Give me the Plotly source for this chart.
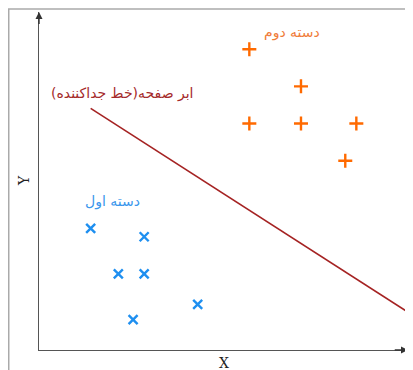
import plotly.graph_objects as go

# Data (axis units 0..10)
group2_x = [5.7, 7.1, 5.7, 7.1, 8.6, 8.3]
group2_y = [8.9, 7.8, 6.7, 6.7, 6.7, 5.6]
group1_x = [1.4, 2.85, 2.15, 2.85, 4.3, 2.55]
group1_y = [3.6, 3.35, 2.25, 2.25, 1.35, 0.9]
line_x = [1.4, 10.0]
line_y = [7.15, 1.12]
label_group1 = "دسته اول"
label_group2 = "دسته دوم"
label_line = "ابر صفحه(خط جداکننده)"
x_title = "X"
y_title = "Y"

fig = go.Figure()
fig.add_trace(go.Scatter(x=line_x, y=line_y, mode="lines",
                         line=dict(color="#a52323", width=1.6), showlegend=False, hoverinfo="skip"))
fig.add_trace(go.Scatter(x=group2_x, y=group2_y, mode="markers",
                         marker=dict(symbol="cross-thin", size=10, line=dict(color="#ff6a00", width=2.4)),
                         showlegend=False))
fig.add_trace(go.Scatter(x=group1_x, y=group1_y, mode="markers",
                         marker=dict(symbol="x-thin", size=9, line=dict(color="#1e8ff0", width=2.4)),
                         showlegend=False))

pf = "DejaVu Sans"
fig.add_annotation(x=6.85, y=9.4, text=label_group2, showarrow=False,
                   font=dict(family=pf, size=14, color="#f07c3a"))
fig.add_annotation(x=2.25, y=7.6, text=label_line, showarrow=False,
                   font=dict(family=pf, size=14, color="#a52a2a"))
fig.add_annotation(x=2.0, y=4.4, text=label_group1, showarrow=False,
                   font=dict(family=pf, size=14, color="#3a96ec"))

# axis titles
fig.add_annotation(xref="paper", yref="paper", x=0.5, y=0, yanchor="top", xanchor="center", yshift=-3,
                   text=x_title, showarrow=False, font=dict(family="DejaVu Serif", size=14, color="#222"))
fig.add_annotation(xref="paper", yref="paper", x=0, y=0.5, xanchor="right", yanchor="middle", xshift=-5,
                   text=y_title, textangle=-90,
                   showarrow=False, font=dict(family="DejaVu Serif", size=14, color="#222"))

# arrowheads on axes
fig.add_annotation(x=10, y=0, ax=9.6, ay=0, axref="x", ayref="y", showarrow=True,
                   arrowhead=2, arrowsize=1, arrowwidth=1.4, arrowcolor="#333", text="")
fig.add_annotation(x=0, y=10, ax=0, ay=9.6, axref="x", ayref="y", showarrow=True,
                   arrowhead=2, arrowsize=1, arrowwidth=1.4, arrowcolor="#333", text="")

# outer frame
fig.add_shape(type="rect", xref="paper", yref="paper", x0=-0.082, x1=1.05, y0=-0.1, y1=1.009,
              line=dict(color="#aaaaaa", width=1.5), fillcolor="rgba(0,0,0,0)", layer="below")

fig.update_xaxes(range=[0, 10], showgrid=False, zeroline=False, showticklabels=False, ticks="",
                 showline=True, linecolor="#555", linewidth=1.4)
fig.update_yaxes(range=[0, 10], showgrid=False, zeroline=False, showticklabels=False, ticks="",
                 showline=True, linecolor="#555", linewidth=1.4)
fig.update_layout(width=405, height=362, margin=dict(l=31, r=5, t=4, b=20),
                  plot_bgcolor="white", paper_bgcolor="white")
fig.write_html("out.html")
